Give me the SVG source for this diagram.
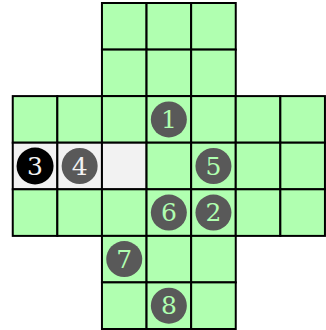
<svg xmlns="http://www.w3.org/2000/svg" width="326" height="330" viewBox="0 0 326 330">
<style>
.c{fill:#b0ffb0;stroke:#000;stroke-width:2}
.g{fill:#f2f2f2;stroke:#000;stroke-width:2}
.d{fill:#595959}
.b{fill:#000}
.t{font-family:"DejaVu Serif",serif;font-size:25px;text-anchor:middle;dominant-baseline:central}
.tg{fill:#b0ffb0}
.tw{fill:#f2f2f2}
</style>
<rect width="326" height="330" fill="#fff"/>
<g id="grid">
<!-- row 0 -->
<rect class="c" x="101.95" y="3" width="44.6" height="46.6"/>
<rect class="c" x="146.55" y="3" width="44.6" height="46.6"/>
<rect class="c" x="191.15" y="3" width="44.6" height="46.6"/>
<!-- row 1 -->
<rect class="c" x="101.95" y="49.6" width="44.6" height="46.5"/>
<rect class="c" x="146.55" y="49.6" width="44.6" height="46.5"/>
<rect class="c" x="191.15" y="49.6" width="44.6" height="46.5"/>
<!-- row 2 -->
<rect class="c" x="12.75" y="96.1" width="44.6" height="46.6"/>
<rect class="c" x="57.35" y="96.1" width="44.6" height="46.6"/>
<rect class="c" x="101.95" y="96.1" width="44.6" height="46.6"/>
<rect class="c" x="146.55" y="96.1" width="44.6" height="46.6"/>
<rect class="c" x="191.15" y="96.1" width="44.6" height="46.6"/>
<rect class="c" x="235.75" y="96.1" width="44.6" height="46.6"/>
<rect class="c" x="280.35" y="96.1" width="44.6" height="46.6"/>
<!-- row 3 -->
<rect class="g" x="12.75" y="142.7" width="44.6" height="46.6"/>
<rect class="g" x="57.35" y="142.7" width="44.6" height="46.6"/>
<rect class="g" x="101.95" y="142.7" width="44.6" height="46.6"/>
<rect class="c" x="146.55" y="142.7" width="44.6" height="46.6"/>
<rect class="c" x="191.15" y="142.7" width="44.6" height="46.6"/>
<rect class="c" x="235.75" y="142.7" width="44.6" height="46.6"/>
<rect class="c" x="280.35" y="142.7" width="44.6" height="46.6"/>
<!-- row 4 -->
<rect class="c" x="12.75" y="189.3" width="44.6" height="46.6"/>
<rect class="c" x="57.35" y="189.3" width="44.6" height="46.6"/>
<rect class="c" x="101.95" y="189.3" width="44.6" height="46.6"/>
<rect class="c" x="146.55" y="189.3" width="44.6" height="46.6"/>
<rect class="c" x="191.15" y="189.3" width="44.6" height="46.6"/>
<rect class="c" x="235.75" y="189.3" width="44.6" height="46.6"/>
<rect class="c" x="280.35" y="189.3" width="44.6" height="46.6"/>
<!-- row 5 -->
<rect class="c" x="101.95" y="235.9" width="44.6" height="46.5"/>
<rect class="c" x="146.55" y="235.9" width="44.6" height="46.5"/>
<rect class="c" x="191.15" y="235.9" width="44.6" height="46.5"/>
<!-- row 6 -->
<rect class="c" x="101.95" y="282.4" width="44.6" height="46.6"/>
<rect class="c" x="146.55" y="282.4" width="44.6" height="46.6"/>
<rect class="c" x="191.15" y="282.4" width="44.6" height="46.6"/>
</g>
<g id="s1"><circle class="d" cx="168.85" cy="119.4" r="18"/><text class="t tg" x="168.85" y="119.4">1</text></g>
<g id="s2"><circle class="d" cx="213.45" cy="212.6" r="18"/><text class="t tg" x="213.45" y="212.6">2</text></g>
<g id="s3"><circle class="b" cx="35.05" cy="166" r="18.5"/><text class="t tw" x="35.05" y="166">3</text></g>
<g id="s4"><circle class="d" cx="79.65" cy="166" r="18"/><text class="t tw" x="79.65" y="166">4</text></g>
<g id="s5"><circle class="d" cx="213.45" cy="166" r="18"/><text class="t tg" x="213.45" y="166">5</text></g>
<g id="s6"><circle class="d" cx="168.85" cy="212.6" r="18"/><text class="t tg" x="168.85" y="212.6">6</text></g>
<g id="s7"><circle class="d" cx="124.25" cy="259.1" r="18"/><text class="t tg" x="124.25" y="259.1">7</text></g>
<g id="s8"><circle class="d" cx="168.85" cy="305.7" r="18"/><text class="t tg" x="168.85" y="305.7">8</text></g>
</svg>
